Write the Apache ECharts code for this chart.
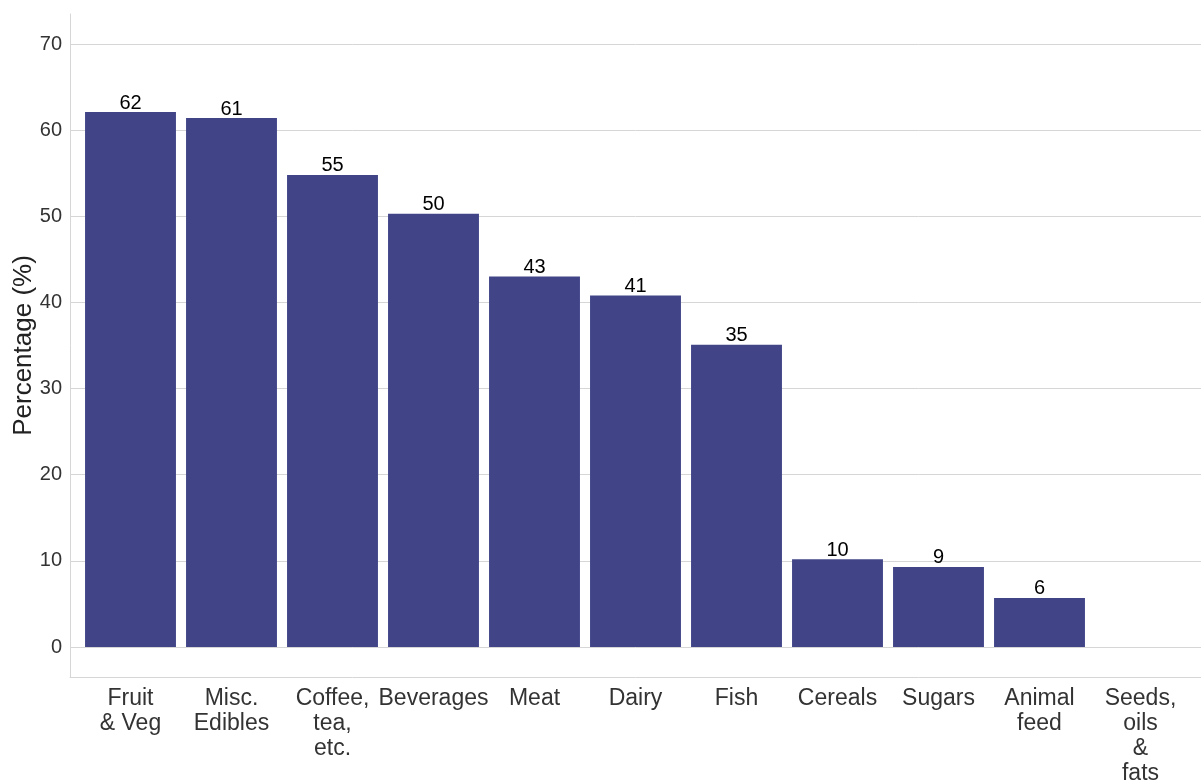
<!DOCTYPE html>
<html>
<head>
<meta charset="utf-8">
<script src="https://cdn.jsdelivr.net/npm/echarts@6/dist/echarts.min.js"></script>
<style>html,body{margin:0;padding:0;background:#fff}#c{width:1201px;height:782px}</style>
</head>
<body>
<div id="c"></div>
<script>
const categories = ["Fruit\n& Veg", "Misc.\nEdibles", "Coffee,\ntea,\netc.", "Beverages", "Meat", "Dairy", "Fish", "Cereals", "Sugars", "Animal\nfeed", "Seeds,\noils\n&\nfats"];
const values = [62.1, 61.4, 54.8, 50.3, 43.0, 40.8, 35.1, 10.2, 9.3, 5.7, 0];
const yTicks = [0, 10, 20, 30, 40, 50, 60, 70];
const yTitle = "Percentage (%)";

const FONT = "Liberation Sans";
const GRID_LINE = "#d6d6d6";
const chart = echarts.init(document.getElementById('c'), null, {renderer: 'canvas'});
chart.setOption({
  animation: false,
  backgroundColor: '#ffffff',
  grid: [
    {left: 70, right: 0, top: 44, bottom: 135, containLabel: false, outerBoundsMode: 'none'},   // gridlines + y labels
    {left: 70, right: 0, top: 14, bottom: 105, containLabel: false, outerBoundsMode: 'none'},   // axis lines
    {left: 80, right: 10, top: 44, bottom: 135, containLabel: false, outerBoundsMode: 'none'}   // bars
  ],
  xAxis: [
    {gridIndex: 0, type: 'value', min: 0, max: 1, show: false},
    {gridIndex: 1, type: 'value', min: 0, max: 1, axisLine: {show: true, onZero: false, lineStyle: {color: GRID_LINE, width: 1}},
     axisTick: {show: false}, axisLabel: {show: false}, splitLine: {show: false}},
    {gridIndex: 2, type: 'category', data: categories,
     axisLine: {show: false}, axisTick: {show: false},
     axisLabel: {interval: 0, margin: 39, color: '#333', fontFamily: FONT, fontSize: 23, lineHeight: 25, align: 'center'}}
  ],
  yAxis: [
    {gridIndex: 0, type: 'value', min: yTicks[0], max: yTicks[yTicks.length - 1], interval: 10,
     axisLine: {show: false}, axisTick: {show: false},
     axisLabel: {color: '#333', fontFamily: FONT, fontSize: 20, margin: 8},
     splitLine: {show: true, lineStyle: {color: GRID_LINE, width: 1}},
     name: yTitle, nameLocation: 'middle', nameGap: 33, nameRotate: 90, nameMoveOverlap: false,
     nameTextStyle: {color: '#222', fontFamily: FONT, fontSize: 26}},
    {gridIndex: 1, type: 'value', min: 0, max: 1, axisLine: {show: true, lineStyle: {color: GRID_LINE, width: 1}},
     axisTick: {show: false}, axisLabel: {show: false}, splitLine: {show: false}},
    {gridIndex: 2, type: 'value', min: yTicks[0], max: yTicks[yTicks.length - 1], show: false}
  ],
  series: [{
    type: 'bar', xAxisIndex: 2, yAxisIndex: 2,
    data: values, barWidth: '90%',
    itemStyle: {color: '#414487'},
    label: {show: true, position: 'top', distance: -1, color: '#000', fontFamily: FONT, fontSize: 20,
      formatter: p => p.value > 0 ? String(Math.round(p.value)) : ''}
  }]
});
</script>
</body>
</html>
